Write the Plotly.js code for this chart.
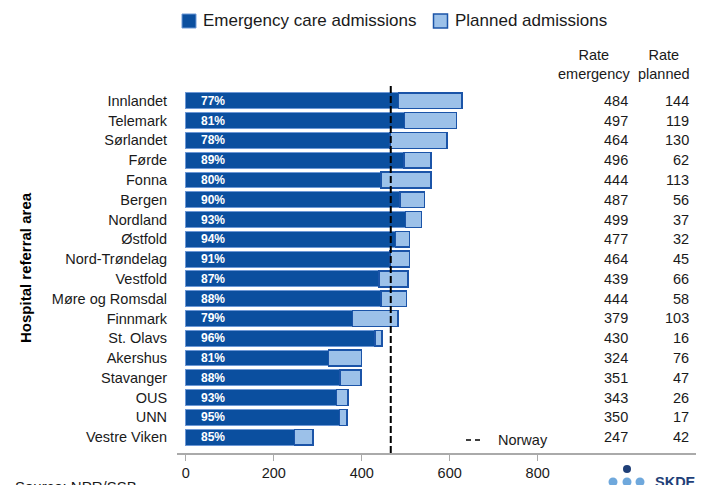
<!DOCTYPE html>
<html>
<head>
<meta charset="utf-8">
<script src="https://cdn.plot.ly/plotly-3.0.1.min.js"></script>
<style>html,body{margin:0;padding:0;background:#fff;}#chart{width:707px;height:485px;}</style>
</head>
<body>
<div id="chart"></div>
<script>
const areas = ["Innlandet","Telemark","Sørlandet","Førde","Fonna","Bergen","Nordland","Østfold","Nord-Trøndelag","Vestfold","Møre og Romsdal","Finnmark","St. Olavs","Akershus","Stavanger","OUS","UNN","Vestre Viken"];
const rateEmergency = [484,497,464,496,444,487,499,477,464,439,444,379,430,324,351,343,350,247];
const ratePlanned = [144,119,130,62,113,56,37,32,45,66,58,103,16,76,47,26,17,42];
const pctLabels = ["77%","81%","78%","89%","80%","90%","93%","94%","91%","87%","88%","79%","96%","81%","88%","93%","95%","85%"];
const norwayRate = 466;
const tickValues = [0,200,400,600,800];

const FONT = "Liberation Sans, Arial, sans-serif";
const DARK = "#0b4f9f", LIGHT = "#9cc1e9";

// plot box in pixels
const L = 177, R = 696, T = 83, B = 453;
const px = v => (v - L) / (R - L);
const py = v => (B - v) / (B - T);

const traces = [
  {type:"bar", orientation:"h", y:areas, x:rateEmergency, name:"Emergency care admissions",
   marker:{color:DARK, line:{color:"#6d98d6", width:1}}, width:0.8, hoverinfo:"x+y", showlegend:false},
  {type:"bar", orientation:"h", y:areas, x:ratePlanned, name:"Planned admissions",
   marker:{color:LIGHT, line:{color:"#1b54a8", width:1.5}}, width:0.8, hoverinfo:"x+y", showlegend:false}
];

const annotations = [];
areas.forEach((a,i)=>{
  annotations.push({x:0, y:a, xref:"x", yref:"y", text:"<b>"+pctLabels[i]+"</b>", showarrow:false,
    xanchor:"left", xshift:13, font:{family:FONT, size:12, color:"#ffffff"}});
  annotations.push({x:1011, y:a, xref:"x", yref:"y", text:String(rateEmergency[i]), showarrow:false,
    xanchor:"right", font:{family:FONT, size:14.5, color:"#1a1a1a"}});
  annotations.push({x:1148, y:a, xref:"x", yref:"y", text:String(ratePlanned[i]), showarrow:false,
    xanchor:"right", font:{family:FONT, size:14.5, color:"#1a1a1a"}});
});
annotations.push({x:929, y:py(64), xref:"x", yref:"paper", text:"Rate<br>emergency", showarrow:false,
  xanchor:"center", yanchor:"middle", font:{family:FONT, size:14.5, color:"#1a1a1a"}});
annotations.push({x:1088, y:py(64), xref:"x", yref:"paper", text:"Rate<br>planned", showarrow:false,
  xanchor:"center", yanchor:"middle", font:{family:FONT, size:14.5, color:"#1a1a1a"}});
annotations.push({x:px(496), y:py(440), xref:"paper", yref:"paper", text:"Norway", showarrow:false,
  xanchor:"left", yanchor:"middle", font:{family:FONT, size:14.5, color:"#1a1a1a"}});
annotations.push({x:px(25), y:py(268), xref:"paper", yref:"paper", text:"<b>Hospital referral area</b>", showarrow:false,
  textangle:-90, xanchor:"center", yanchor:"middle", font:{family:FONT, size:15, color:"#000"}});
annotations.push({x:px(201), y:py(21), xref:"paper", yref:"paper", text:"Emergency care admissions", showarrow:false,
  xanchor:"left", yanchor:"middle", font:{family:FONT, size:17, color:"#1a1a1a"}});
annotations.push({x:px(453), y:py(21), xref:"paper", yref:"paper", text:"Planned admissions", showarrow:false,
  xanchor:"left", yanchor:"middle", font:{family:FONT, size:17, color:"#1a1a1a"}});
annotations.push({x:px(13), y:py(476), xref:"paper", yref:"paper", text:"Source: NPR/SSB", showarrow:false,
  xanchor:"left", yanchor:"top", font:{family:FONT, size:15, color:"#1a1a1a"}});
annotations.push({x:px(653), y:py(472), xref:"paper", yref:"paper", text:"<b>SKDE</b>", showarrow:false,
  xanchor:"left", yanchor:"top", font:{family:FONT, size:14.5, color:"#1f3f78"}});

function pxRect(cx, cy, w, h, fill, line, lw){
  return {type:"rect", xref:"paper", yref:"paper", xsizemode:"pixel", ysizemode:"pixel",
    xanchor:px(cx), yanchor:py(cy), x0:-w/2, x1:w/2, y0:-h/2, y1:h/2,
    fillcolor:fill, line:{color:line, width:lw}};
}
function pxCircle(cx, cy, r, fill){
  return {type:"circle", xref:"paper", yref:"paper", xsizemode:"pixel", ysizemode:"pixel",
    xanchor:px(cx), yanchor:py(cy), x0:-r, x1:r, y0:-r, y1:r,
    fillcolor:fill, line:{width:0}};
}

const shapes = [
  {type:"line", xref:"x", yref:"paper", x0:norwayRate, x1:norwayRate, y0:0, y1:1,
   line:{color:"#000", width:2, dash:"7px,3px"}, layer:"above"},
  {type:"line", xref:"paper", yref:"paper", x0:px(466), x1:px(481), y0:py(440), y1:py(440),
   line:{color:"#000", width:1.5, dash:"5px,4px"}},
  pxRect(189, 21, 14, 14, DARK, "#6d98d6", 1),
  pxRect(440.5, 21, 14, 14, LIGHT, "#1b54a8", 1.5),
  pxCircle(627, 469, 4, "#1f3f78"),
  pxCircle(613, 482, 4.5, "#6fa8dc"),
  pxCircle(627, 482, 4.5, "#6fa8dc"),
  pxCircle(640, 482, 4.5, "#6fa8dc")
];

const layout = {
  width:707, height:485,
  margin:{l:L, r:707-R, t:T, b:485-B, pad:0},
  paper_bgcolor:"#fff", plot_bgcolor:"#fff",
  barmode:"stack", bargap:0.2,
  showlegend:false,
  font:{family:FONT, size:14.5, color:"#1a1a1a"},
  xaxis:{range:[-20,1160], tickvals:tickValues, ticktext:tickValues.map(String),
    showgrid:false, zeroline:false, showline:true, linecolor:"#aaaaaa", linewidth:2,
    ticks:"outside", ticklen:6, tickwidth:1, tickcolor:"#aaaaaa",
    tickfont:{family:FONT, size:14.5, color:"#1a1a1a"}, fixedrange:true},
  yaxis:{type:"category", categoryorder:"array", categoryarray:areas, range:[17.8,-0.9], autorange:false,
    showgrid:false, zeroline:false, showline:false, ticks:"outside", ticklen:6, tickcolor:"rgba(0,0,0,0)",
    tickfont:{family:FONT, size:14.5, color:"#1a1a1a"}, fixedrange:true},
  annotations:annotations,
  shapes:shapes
};

Plotly.newPlot("chart", traces, layout, {displayModeBar:false, staticPlot:true});
</script>
</body>
</html>
